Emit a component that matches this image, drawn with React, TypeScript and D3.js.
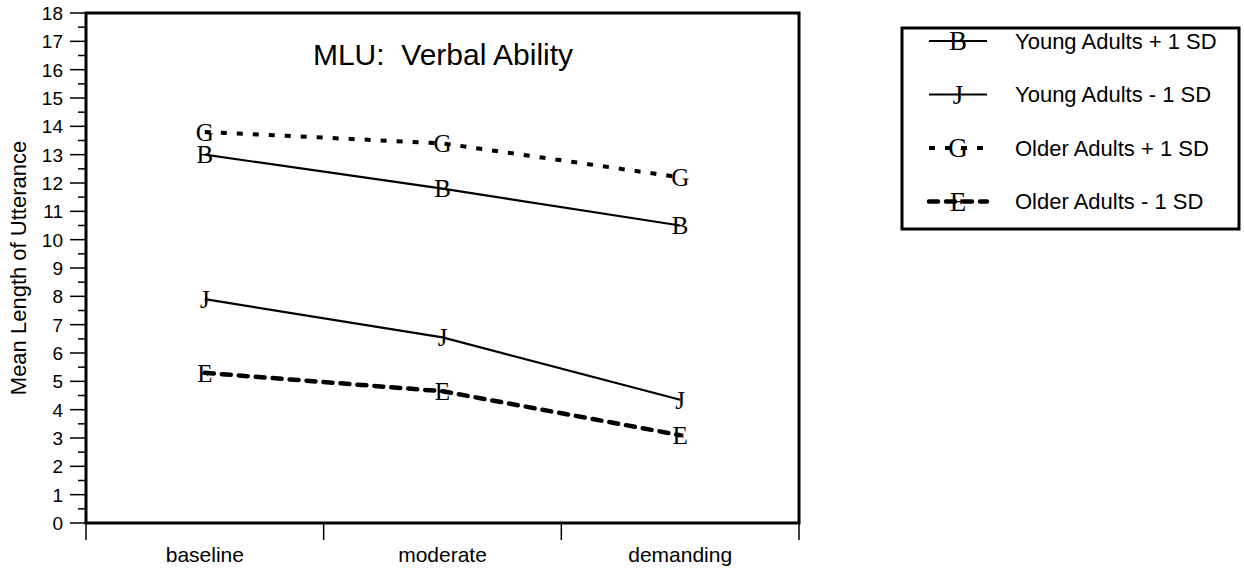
import React from 'react';
import * as d3 from 'd3';

const categories = ['baseline', 'moderate', 'demanding'];
const seriesNames = ['Young Adults + 1 SD', 'Young Adults - 1 SD', 'Older Adults + 1 SD', 'Older Adults - 1 SD'];
const seriesMarkers = ['B', 'J', 'G', 'E'];
const youngPlus = [13.0, 11.8, 10.5];
const youngMinus = [7.9, 6.55, 4.35];
const olderPlus = [13.8, 13.4, 12.2];
const olderMinus = [5.3, 4.65, 3.1];
const yTicks = d3.range(0, 19);

const seriesValues = [youngPlus, youngMinus, olderPlus, olderMinus];
const seriesStyle = [
  { width: 2.2, dash: null, cap: 'butt' },
  { width: 2.2, dash: null, cap: 'butt' },
  { width: 4, dash: '6 10', cap: 'butt' },
  { width: 4.5, dash: '9 8', cap: 'round' },
];

const W = 1244;
const H = 577;
const plot = { left: 86, right: 799, top: 13, bottom: 523 };
const font = 'Arial, "Liberation Sans", sans-serif';
const serif = '"Times New Roman", "Liberation Serif", serif';

export default function App() {
  const x = d3.scaleBand().domain(categories).range([plot.left, plot.right]);
  const y = d3.scaleLinear().domain([0, 18]).range([plot.bottom, plot.top]);
  const line = d3.line<number>()
    .x((_, i) => (x(categories[i]) as number) + x.bandwidth() / 2)
    .y(d => y(d));
  const minor = d3.range(0.5, 18, 1);
  const bounds = [...categories.map(c => x(c) as number), plot.right];

  const legend = { x: 902, y: 28, w: 337, h: 201 };

  return (
    <svg width={W} height={H} style={{ position: 'absolute', left: 0, top: 0, background: '#fff' }}>
      {/* y ticks */}
      {yTicks.map(t => (
        <g key={t}>
          <line x1={70} x2={plot.left} y1={y(t)} y2={y(t)} stroke="#000" strokeWidth={1.5} />
          <text x={63} y={y(t)} dy="0.36em" textAnchor="end" fontFamily={font} fontSize={19}>{t}</text>
        </g>
      ))}
      {minor.map(t => (
        <line key={t} x1={78} x2={plot.left} y1={y(t)} y2={y(t)} stroke="#000" strokeWidth={1.5} />
      ))}
      {/* x ticks */}
      {bounds.map((b, i) => (
        <line key={i} x1={b} x2={b} y1={plot.bottom} y2={540} stroke="#000" strokeWidth={1.5} />
      ))}
      {categories.map(c => (
        <text key={c} x={(x(c) as number) + x.bandwidth() / 2} y={562} textAnchor="middle" fontFamily={font} fontSize={21}>{c}</text>
      ))}
      {/* frame */}
      <rect x={plot.left} y={plot.top} width={plot.right - plot.left} height={plot.bottom - plot.top}
        fill="none" stroke="#000" strokeWidth={3} />
      <text x={443} y={65} textAnchor="middle" fontFamily={font} fontSize={30} style={{ whiteSpace: 'pre' }}>MLU:  Verbal Ability</text>
      <text transform={`translate(26,${(plot.top + plot.bottom) / 2}) rotate(-90)`} textAnchor="middle"
        fontFamily={font} fontSize={22}>Mean Length of Utterance</text>
      {/* series */}
      {seriesValues.map((vals, s) => (
        <g key={s}>
          <path d={line(vals) || ''} fill="none" stroke="#000" strokeWidth={seriesStyle[s].width}
            strokeDasharray={seriesStyle[s].dash || undefined} strokeLinecap={seriesStyle[s].cap as any} />
          {vals.map((v, i) => (
            <text key={i} x={(x(categories[i]) as number) + x.bandwidth() / 2} y={y(v)} dy="0.35em"
              textAnchor="middle" fontFamily={serif} fontSize={25}>{seriesMarkers[s]}</text>
          ))}
        </g>
      ))}
      {/* legend */}
      <rect x={legend.x} y={legend.y} width={legend.w} height={legend.h} fill="#fff" stroke="#000" strokeWidth={3} />
      {seriesNames.map((n, s) => {
        const cy = legend.y + 13 + s * 53.5;
        return (
          <g key={n}>
            <line x1={929} x2={987} y1={cy} y2={cy} stroke="#000" strokeWidth={seriesStyle[s].width}
              strokeDasharray={seriesStyle[s].dash || undefined} strokeLinecap={seriesStyle[s].cap as any} />
            <text x={958} y={cy} dy="0.35em" textAnchor="middle" fontFamily={serif} fontSize={27}>{seriesMarkers[s]}</text>
            <text x={1015} y={cy} dy="0.36em" fontFamily={font} fontSize={22}>{n}</text>
          </g>
        );
      })}
    </svg>
  );
}
